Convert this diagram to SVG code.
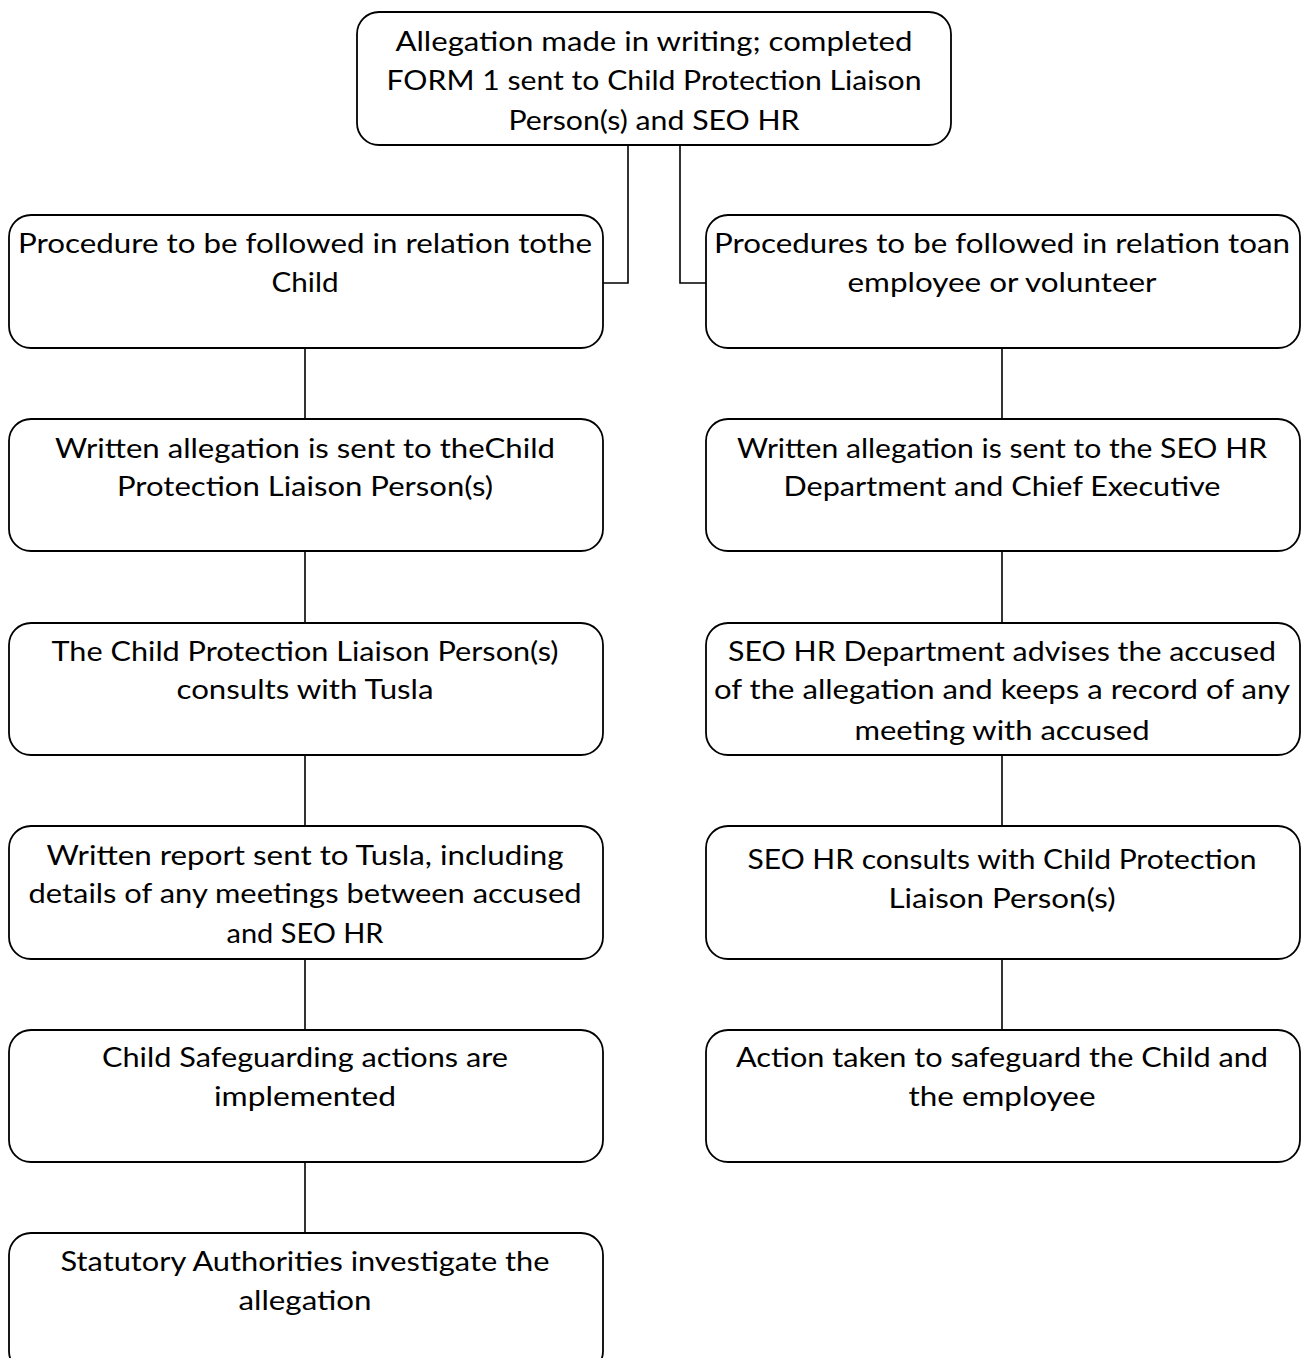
<svg xmlns="http://www.w3.org/2000/svg" width="1304" height="1358" viewBox="0 0 1304 1358">
<style>
.box{fill:#fff;stroke:#000;stroke-width:1.8}
.c{fill:none;stroke:#000;stroke-width:1.6}
text{font-family:Lato,"Open Sans","Liberation Sans",sans-serif;font-size:27px;fill:#000;text-anchor:middle}
</style>
<rect width="1304" height="1358" fill="#fff"/>
<g id="connectors">
<polyline class="c" points="628,145 628,283 603,283"/>
<polyline class="c" points="680,145 680,283 706,283"/>
<line class="c" x1="305" y1="348" x2="305" y2="419"/>
<line class="c" x1="305" y1="551" x2="305" y2="623"/>
<line class="c" x1="305" y1="755" x2="305" y2="826"/>
<line class="c" x1="305" y1="959" x2="305" y2="1030"/>
<line class="c" x1="305" y1="1162" x2="305" y2="1233"/>
<line class="c" x1="1002" y1="348" x2="1002" y2="419"/>
<line class="c" x1="1002" y1="551" x2="1002" y2="623"/>
<line class="c" x1="1002" y1="755" x2="1002" y2="826"/>
<line class="c" x1="1002" y1="959" x2="1002" y2="1030"/>
</g>
<g id="n0">
<rect class="box" x="357" y="12" width="594" height="133" rx="22"/>
<text x="654" y="51" textLength="517" lengthAdjust="spacingAndGlyphs">Allegation made in writing; completed</text>
<text x="654" y="90" textLength="535" lengthAdjust="spacingAndGlyphs">FORM 1 sent to Child Protection Liaison</text>
<text x="654" y="130" textLength="291" lengthAdjust="spacingAndGlyphs">Person(s) and SEO HR</text>
</g>
<g id="l1">
<rect class="box" x="9" y="215" width="594" height="133" rx="22"/>
<text x="305" y="253" textLength="574" lengthAdjust="spacingAndGlyphs">Procedure to be followed in relation tothe</text>
<text x="305" y="292" textLength="67" lengthAdjust="spacingAndGlyphs">Child</text>
</g>
<g id="r1">
<rect class="box" x="706" y="215" width="594" height="133" rx="22"/>
<text x="1002" y="253" textLength="576" lengthAdjust="spacingAndGlyphs">Procedures to be followed in relation toan</text>
<text x="1002" y="292" textLength="309" lengthAdjust="spacingAndGlyphs">employee or volunteer</text>
</g>
<g id="l2">
<rect class="box" x="9" y="419" width="594" height="132" rx="22"/>
<text x="305" y="458" textLength="500" lengthAdjust="spacingAndGlyphs">Written allegation is sent to theChild</text>
<text x="305" y="496" textLength="376" lengthAdjust="spacingAndGlyphs">Protection Liaison Person(s)</text>
</g>
<g id="r2">
<rect class="box" x="706" y="419" width="594" height="132" rx="22"/>
<text x="1002" y="458" textLength="530" lengthAdjust="spacingAndGlyphs">Written allegation is sent to the SEO HR</text>
<text x="1002" y="496" textLength="437" lengthAdjust="spacingAndGlyphs">Department and Chief Executive</text>
</g>
<g id="l3">
<rect class="box" x="9" y="623" width="594" height="132" rx="22"/>
<text x="305" y="661" textLength="507" lengthAdjust="spacingAndGlyphs">The Child Protection Liaison Person(s)</text>
<text x="305" y="699" textLength="257" lengthAdjust="spacingAndGlyphs">consults with Tusla</text>
</g>
<g id="r3">
<rect class="box" x="706" y="623" width="594" height="132" rx="22"/>
<text x="1002" y="661" textLength="548" lengthAdjust="spacingAndGlyphs">SEO HR Department advises the accused</text>
<text x="1002" y="699" textLength="576" lengthAdjust="spacingAndGlyphs">of the allegation and keeps a record of any</text>
<text x="1002" y="740" textLength="295" lengthAdjust="spacingAndGlyphs">meeting with accused</text>
</g>
<g id="l4">
<rect class="box" x="9" y="826" width="594" height="133" rx="22"/>
<text x="305" y="865" textLength="517" lengthAdjust="spacingAndGlyphs">Written report sent to Tusla, including</text>
<text x="305" y="903" textLength="553" lengthAdjust="spacingAndGlyphs">details of any meetings between accused</text>
<text x="305" y="943" textLength="157" lengthAdjust="spacingAndGlyphs">and SEO HR</text>
</g>
<g id="r4">
<rect class="box" x="706" y="826" width="594" height="133" rx="22"/>
<text x="1002" y="869" textLength="509" lengthAdjust="spacingAndGlyphs">SEO HR consults with Child Protection</text>
<text x="1002" y="908" textLength="227" lengthAdjust="spacingAndGlyphs">Liaison Person(s)</text>
</g>
<g id="l5">
<rect class="box" x="9" y="1030" width="594" height="132" rx="22"/>
<text x="305" y="1067" textLength="406" lengthAdjust="spacingAndGlyphs">Child Safeguarding actions are</text>
<text x="305" y="1106" textLength="182" lengthAdjust="spacingAndGlyphs">implemented</text>
</g>
<g id="r5">
<rect class="box" x="706" y="1030" width="594" height="132" rx="22"/>
<text x="1002" y="1067" textLength="532" lengthAdjust="spacingAndGlyphs">Action taken to safeguard the Child and</text>
<text x="1002" y="1106" textLength="187" lengthAdjust="spacingAndGlyphs">the employee</text>
</g>
<g id="l6">
<rect class="box" x="9" y="1233" width="594" height="140" rx="22"/>
<text x="305" y="1271" textLength="489" lengthAdjust="spacingAndGlyphs">Statutory Authorities investigate the</text>
<text x="305" y="1310" textLength="133" lengthAdjust="spacingAndGlyphs">allegation</text>
</g>
</svg>
